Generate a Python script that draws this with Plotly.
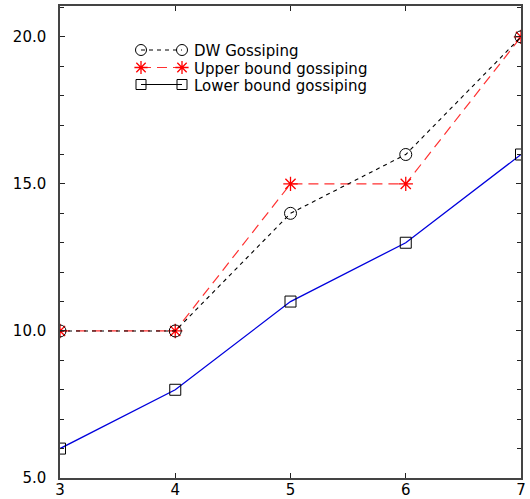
import plotly.graph_objects as go

# Number of nodes on the x axis, rounds on the y axis
nodes = [3, 4, 5, 6, 7]
dw_gossiping = [10, 10, 14, 16, 20]
upper_bound = [10, 10, 15, 15, 20]
lower_bound = [6, 8, 11, 13, 16]

y_ticks = [5, 10, 15, 20]
y_tick_labels = ["5.0", "10.0", "15.0", "20.0"]

legend_names = ["DW Gossiping", "Upper bound gossiping", "Lower bound gossiping"]

W, H = 530, 499
L, R, T, B = 60, 9, 6, 21
pw, ph = W - L - R, H - T - B
FONT = "DejaVu Sans, Liberation Sans, sans-serif"


def px_x(v):
    return (v - L) / pw


def px_y(v):
    return (H - B - v) / ph


fig = go.Figure()

fig.add_trace(go.Scatter(
    x=nodes, y=lower_bound, mode="lines+markers",
    line=dict(color="#0000dd", width=1.3),
    marker=dict(symbol="square-open", size=11, color="black", line=dict(width=1)),
    showlegend=False))

fig.add_trace(go.Scatter(
    x=nodes, y=upper_bound, mode="lines+markers",
    line=dict(color="#ff3030", width=1.2, dash="10px,6px"),
    marker=dict(symbol="asterisk-open", size=12, color="#ff0000", line=dict(width=1.3)),
    showlegend=False))

fig.add_trace(go.Scatter(
    x=nodes, y=dw_gossiping, mode="lines+markers",
    line=dict(color="black", width=1.1, dash="4px,4px"),
    marker=dict(symbol="circle-open", size=12, color="black", line=dict(width=1)),
    showlegend=False))

# Hand-drawn legend: marker - line - marker, then label
legend_rows_px = [50, 67.5, 84.5]
legend_styles = [
    dict(line=dict(color="black", width=1, dash="4px,4px"),
         marker=dict(symbol="circle-open", size=11, color="black")),
    dict(line=dict(color="#ff3030", width=1.2, dash="10px,6px"),
         marker=dict(symbol="asterisk-open", size=11, color="#ff0000", line=dict(width=1.3))),
    dict(line=dict(color="black", width=1),
         marker=dict(symbol="square-open", size=10, color="black")),
]
for name, row, style in zip(legend_names, legend_rows_px, legend_styles):
    fig.add_trace(go.Scatter(
        x=[px_x(141), px_x(182)], y=[px_y(row), px_y(row)],
        xaxis="x2", yaxis="y2", mode="lines+markers",
        showlegend=False, hoverinfo="skip", **style))
    fig.add_annotation(
        x=px_x(192), y=px_y(row + 1), xref="paper", yref="paper",
        text=name, showarrow=False, xanchor="left", yanchor="middle",
        font=dict(family=FONT, size=15, color="black"))

axis_common = dict(
    showgrid=False, zeroline=False, showline=True, linecolor="#444444",
    linewidth=1.5, mirror="ticks", ticks="inside", tickcolor="#222222",
    automargin=False,
)

fig.update_layout(
    width=W, height=H,
    margin=dict(l=L, r=R, t=T, b=B),
    paper_bgcolor="white", plot_bgcolor="white",
    xaxis=dict(range=[3, 7], tickvals=nodes, ticklen=5, ticklabelstandoff=-3,
               tickfont=dict(family=FONT, size=15, color="black"),
               **axis_common),
    yaxis=dict(range=[5, 21.05], tickvals=y_ticks, ticktext=y_tick_labels,
               ticklen=5, ticklabelstandoff=9,
               tickfont=dict(family=FONT, size=15, color="black"),
               minor=dict(dtick=1, ticklen=4, ticks="inside", tickcolor="#222222"),
               **axis_common),
    xaxis2=dict(range=[0, 1], overlaying="x", visible=False),
    yaxis2=dict(range=[0, 1], overlaying="y", visible=False),
)

fig.write_html("out.html")
